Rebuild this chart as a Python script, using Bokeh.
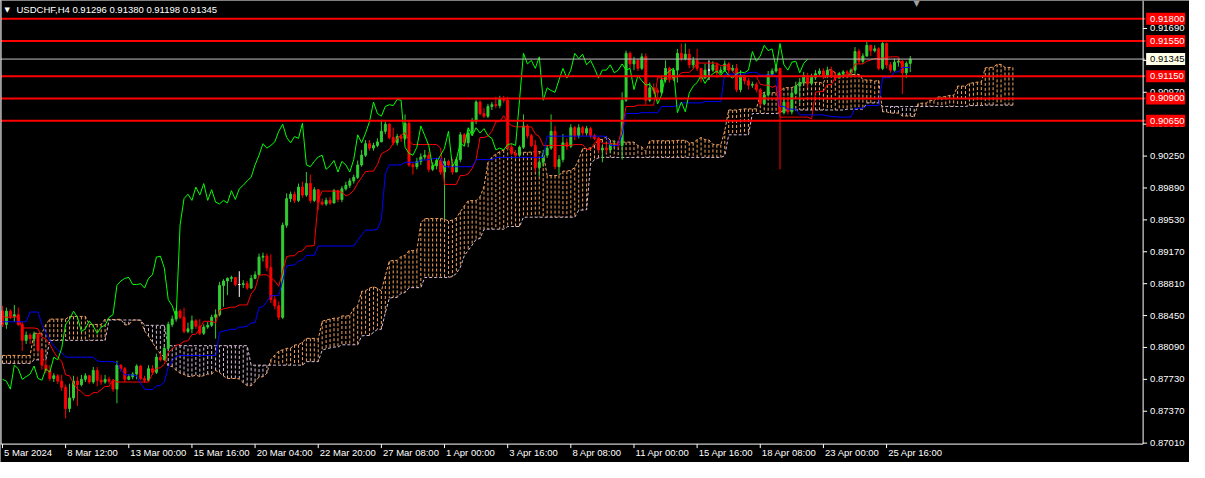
import numpy as np
from bokeh.plotting import figure
from bokeh.models import ColumnDataSource, Range1d
from bokeh.core.properties import value
from bokeh.embed import file_html
from bokeh.resources import INLINE

# ---------------- data (USDCHF H4) ----------------
first_open = 0.8850
closes = [
    .8835, .8850, .8844, .8846, .8835, .8817, .8823, .8819, .8824, .8806,
    .8789, .8783, .8774, .8777, .8771, .8764, .8740, .8752, .8771, .8767,
    .8773, .8777, .8770, .8783, .8772, .8770, .8773, .8771, .8762, .8789,
    .8785, .8773, .8776, .8779, .8788, .8774, .8772, .8785, .8781, .8798,
    .8795, .8808, .8835, .8841, .8850, .8843, .8827, .8830, .8839, .8833,
    .8825, .8832, .8834, .8843, .8846, .8879, .8884, .8887, .8888, .8880,
    .8880, .8881, .8876, .8887, .8891, .8911, .8912, .8899, .8863, .8856,
    .8843, .8947, .8977, .8982, .8975, .8990, .8981, .8994, .8975, .8987,
    .8973, .8971, .8975, .8972, .8986, .8976, .8988, .8992, .8997, .9001,
    .9015, .9026, .9039, .9034, .9037, .9041, .9053, .9061, .9046, .9040,
    .9047, .9045, .9062, .9015, .9013, .9019, .9024, .9026, .9010, .9014,
    .9020, .9007, .9019, .9015, .9007, .9021, .9049, .9040, .9051, .9064,
    .9086, .9073, .9070, .9081, .9083, .9082, .9089, .9088, .9035, .9028,
    .9026, .9035, .9059, .9048, .9037, .9012, .9018, .9026, .9034, .9053,
    .9013, .9021, .9040, .9036, .9057, .9048, .9057, .9051, .9056, .9048,
    .9045, .9032, .9034, .9032, .9038, .9039, .9037, .9088, .9141, .9129,
    .9133, .9124, .9137, .9088, .9102, .9099, .9097, .9111, .9124, .9113,
    .9122, .9141, .9135, .9140, .9128, .9133, .9124, .9113, .9122, .9122,
    .9128, .9119, .9122, .9129, .9122, .9124, .9100, .9116, .9110, .9105,
    .9106, .9100, .9084, .9094, .9117, .9121, .9124, .9074, .9086, .9075,
    .9096, .9104, .9108, .9116, .9107, .9114, .9118, .9121, .9116, .9122,
    .9116, .9113, .9118, .9120, .9119, .9122, .9143, .9132, .9138, .9150,
    .9144, .9146, .9124, .9152, .9128, .9122, .9131, .9132, .9119, .91296,
    .91345,
]
highs = [
    .8856, .8854, .8852, .8857, .8854, .8838, .8827, .8825, .8827, .8825,
    .8808, .8795, .8789, .8780, .8779, .8778, .8767, .8768, .8777, .8776,
    .8778, .8780, .8778, .8787, .8787, .8778, .8778, .8776, .8773, .8794,
    .8790, .8787, .8779, .8781, .8790, .8789, .8777, .8789, .8789, .8802,
    .8803, .8811, .8838, .8845, .8854, .8852, .8854, .8837, .8845, .8841,
    .8841, .8835, .8838, .8846, .8852, .8883, .8886, .8888, .8890, .8888,
    .8895, .8885, .8884, .8891, .8895, .8915, .8916, .8915, .8914, .8868,
    .8861, .8950, .8983, .8985, .8985, .8994, .8996, .9007, .9004, .8990,
    .8988, .8977, .8978, .8979, .8988, .8987, .8991, .8996, .9000, .9004,
    .9020, .9032, .9043, .9043, .9040, .9045, .9066, .9064, .9062, .9057,
    .9050, .9050, .9072, .9064, .9018, .9023, .9028, .9032, .9030, .9018,
    .9023, .9023, .9023, .9021, .9022, .9024, .9052, .9051, .9056, .9068,
    .9088, .9088, .9079, .9084, .9086, .9092, .9093, .9093, .9092, .9039,
    .9032, .9037, .9072, .9061, .9050, .9043, .9021, .9032, .9037, .9072,
    .9059, .9026, .9050, .9045, .9061, .9059, .9061, .9059, .9059, .9058,
    .9050, .9047, .9037, .9039, .9041, .9043, .9041, .9097, .9144, .9143,
    .9137, .9135, .9141, .9141, .9108, .9107, .9102, .9116, .9133, .9126,
    .9124, .9146, .9152, .9152, .9146, .9137, .9146, .9122, .9129, .9133,
    .9132, .9130, .9126, .9133, .9131, .9128, .9129, .9122, .9116, .9113,
    .9109, .9108, .9102, .9097, .9121, .9124, .9128, .9124, .9092, .9092,
    .9100, .9109, .9113, .9120, .9119, .9118, .9122, .9124, .9124, .9126,
    .9126, .9120, .9120, .9122, .9122, .9124, .9148, .9146, .9141, .9154,
    .9148, .9150, .9148, .9155, .9153, .9131, .9135, .9135, .9133, .9132,
    .91380,
]
lows = [
    .8832, .8830, .8841, .8838, .8833, .8805, .8813, .8813, .8814, .8803,
    .8784, .8780, .8771, .8770, .8768, .8760, .8729, .8736, .8749, .8743,
    .8765, .8770, .8768, .8768, .8765, .8767, .8768, .8768, .8759, .8746,
    .8782, .8770, .8772, .8773, .8773, .8772, .8769, .8771, .8778, .8779,
    .8793, .8794, .8806, .8832, .8838, .8841, .8825, .8825, .8825, .8830,
    .8823, .8823, .8830, .8832, .8819, .8844, .8855, .8868, .8883, .8878,
    .8866, .8876, .8874, .8875, .8886, .8890, .8906, .8895, .8859, .8852,
    .8840, .8841, .8944, .8973, .8972, .8973, .8978, .8979, .8972, .8973,
    .8964, .8969, .8969, .8970, .8972, .8973, .8973, .8986, .8989, .8994,
    .8999, .9013, .9024, .9031, .9031, .9035, .9041, .9050, .9044, .9037,
    .9037, .9041, .9043, .9013, .9004, .9010, .9015, .9021, .9007, .9008,
    .9010, .9004, .8954, .9012, .9004, .9007, .9018, .9037, .9035, .9048,
    .9061, .9071, .9068, .9068, .9077, .9079, .9079, .9085, .9032, .9026,
    .9023, .9024, .9033, .9045, .9035, .9007, .9002, .9013, .9023, .9032,
    .9010, .9004, .9018, .9032, .9034, .9043, .9045, .9048, .9048, .9045,
    .9043, .9028, .9018, .9028, .9028, .9035, .9034, .9021, .9086, .9124,
    .9122, .9121, .9122, .9083, .9086, .9095, .9087, .9095, .9108, .9108,
    .9110, .9108, .9132, .9133, .9124, .9124, .9121, .9108, .9113, .9111,
    .9120, .9113, .9118, .9120, .9118, .9120, .9097, .9097, .9106, .9100,
    .9102, .9097, .9081, .9083, .9092, .9116, .9119, .9010, .9072, .9072,
    .9072, .9094, .9085, .9106, .9102, .9105, .9111, .9116, .9112, .9113,
    .9113, .9110, .9113, .9116, .9116, .9116, .9118, .9129, .9129, .9137,
    .9138, .9142, .9122, .9122, .9124, .9119, .9120, .9126, .9095, .9113,
    .91198,
]
# Ichimoku values visible at the left edge (they depend on older bars)
kijun_early = [.8838] * 7 + [.8849] * 3 + [.8835, .8825, .8817, .8811, .8806, .8803] + [.8798] * 8 + [.8794]
span_a_early = [.8800] * 8 + [.8825] * 3 + [.8835] + [.8841] * 5 + [.8844] * 5 + [.8835] * 4
span_b_early = ([.8791] * 8 + [.8795] * 4 + [.8817] * 15 + [.8840] * 9 +
                [.8834] * 6 + [.8811] * 21 + [.8789] * 14)

levels = [0.91800, 0.91550, 0.91150, 0.90900, 0.90650]
bid = 0.91345
y_ticks = [0.87010, 0.87370, 0.87730, 0.88090, 0.88450, 0.88810, 0.89170,
           0.89530, 0.89890, 0.90250, 0.90610, 0.90970, 0.91330, 0.91690]
x_tick_bars = [0, 16, 32, 48, 64, 80, 96, 112, 128, 144, 160, 176, 192, 208, 224]
x_tick_labels = ["5 Mar 2024", "8 Mar 12:00", "13 Mar 00:00", "15 Mar 16:00",
                 "20 Mar 04:00", "22 Mar 20:00", "27 Mar 08:00", "1 Apr 00:00",
                 "3 Apr 16:00", "8 Apr 08:00", "11 Apr 00:00", "15 Apr 16:00",
                 "18 Apr 08:00", "23 Apr 00:00", "25 Apr 16:00"]
title_text = "USDCHF,H4  0.91296 0.91380 0.91198 0.91345"

# ---------------- derived ----------------
n = len(closes)
C = np.array(closes)
O = np.array([first_open] + closes[:-1])
H = np.maximum(np.array(highs), np.maximum(O, C))
L = np.minimum(np.array(lows), np.minimum(O, C))
idx = np.arange(n)

def mid(i, period):
    s = max(0, i - period + 1)
    return (H[s:i + 1].max() + L[s:i + 1].min()) / 2

tenkan = np.array([mid(i, 9) for i in range(n)])
kijun = np.array([kijun_early[i] if i < len(kijun_early) else mid(i, 26) for i in range(n)])
m = n + 26
span_a = np.zeros(m)
span_b = np.zeros(m)
for i in range(m):
    span_a[i] = span_a_early[i] if i < len(span_a_early) else (tenkan[i - 26] + kijun[i - 26]) / 2
    span_b[i] = span_b_early[i] if i < len(span_b_early) else mid(i - 26, 52)

# ---------------- geometry (chart pixels -> scale units) ----------------
W, HGT = 1189, 462
PX_BAR = 4 * W / 1205.0            # pixels per bar
PRICE_PX = 0.0036 / 33 * 478.0 / HGT  # price per pixel
TOP_PRICE = 0.92006
def xd(px):   # horizontal pixel -> bar units
    return -0.5 + px / PX_BAR
def yd(py):   # vertical pixel -> price
    return TOP_PRICE - py * PRICE_PX

AX_X = 289.0                     # right price-scale line (bar units)
BOTTOM = yd(443.6)               # bottom time-scale line (price)

BULL = "#32CD32"
BEAR = "#FF0000"
colors = [BULL if c > o else (BEAR if c < o else "#FFFFFF") for o, c in zip(O, C)]

FONT = "Liberation Sans"
FS = "9.5px"

p = figure(width=W, height=HGT, output_backend="svg", toolbar_location=None,
           x_range=Range1d(xd(0), xd(W)), y_range=Range1d(yd(HGT), yd(0)),
           x_axis_location=None, y_axis_location=None,
           min_border_left=0, min_border_right=0, min_border_top=0, min_border_bottom=0,
           background_fill_color="black", border_fill_color="black")
p.xgrid.visible = False
p.ygrid.visible = False
p.outline_line_color = None

# cloud (vertical dotted histogram between the spans)
cx = np.arange(m)
ccol = ["#F4A460" if a >= b else "#D8BFD8" for a, b in zip(span_a, span_b)]
p.segment(x0=cx, y0=span_a, x1=cx, y1=span_b, line_color=ccol, line_width=1, line_dash="3 2")
p.line(cx, span_a, line_color="#F4A460", line_width=1, line_dash="3 2")
p.line(cx, span_b, line_color="#D8BFD8", line_width=1, line_dash="3 2")

# candles
src = ColumnDataSource(dict(x=idx, o=O, c=C, h=H, l=L, top=np.maximum(O, C),
                            bot=np.minimum(O, C), col=colors))
p.segment(x0="x", y0="l", x1="x", y1="h", line_color="col", line_width=1, source=src)
p.vbar(x="x", top="top", bottom="bot", width=0.5, fill_color="col", line_color="col",
       line_width=1, source=src)

# ichimoku lines
p.line(idx, tenkan, line_color="#FF0000", line_width=1)
p.line(idx, kijun, line_color="#0000FF", line_width=1)
p.line(idx[:-26], C[26:], line_color="#00FF00", line_width=1)

# horizontal levels and bid line
line_end = AX_X + 2 / PX_BAR
p.segment(x0=[xd(0)] * len(levels), y0=levels, x1=[line_end] * len(levels), y1=levels,
          line_color="#FF0000", line_width=2)
p.segment(x0=[xd(0)], y0=[bid], x1=[line_end], y1=[bid], line_color="#C0C0C0", line_width=1)

# price scale (right) and time scale (bottom)
p.segment(x0=[AX_X, xd(0)], y0=[BOTTOM, BOTTOM], x1=[AX_X, AX_X], y1=[yd(0), BOTTOM],
          line_color="white", line_width=1)
p.segment(x0=[xd(0.5)], y0=[BOTTOM], x1=[xd(0.5)], y1=[yd(0)], line_color="white", line_width=1)
tick_len = 4 / PX_BAR
p.segment(x0=[AX_X] * len(y_ticks), y0=y_ticks, x1=[AX_X + tick_len] * len(y_ticks), y1=y_ticks,
          line_color="white", line_width=1)
p.text(x=[AX_X + 7 / PX_BAR] * len(y_ticks), y=y_ticks, text=[f"{v:.5f}" for v in y_ticks],
       text_color="white", text_font=value(FONT), text_font_size=value(FS),
       text_baseline="middle", text_align="left")
p.segment(x0=x_tick_bars, y0=[BOTTOM] * len(x_tick_bars), x1=x_tick_bars,
          y1=[BOTTOM - 4 * PRICE_PX] * len(x_tick_bars), line_color="white", line_width=1)
p.text(x=[b + 0.4 for b in x_tick_bars], y=[BOTTOM - 3 * PRICE_PX] * len(x_tick_bars),
       text=x_tick_labels, text_color="white", text_font=value(FONT), text_font_size=value(FS),
       text_baseline="top", text_align="left")

# price labels of the levels and the bid
half = 6 * PRICE_PX
bx0, bx1 = AX_X + 3 / PX_BAR, AX_X + 42 / PX_BAR
p.quad(left=[bx0] * len(levels), right=[bx1] * len(levels),
       bottom=[v - half for v in levels], top=[v + half for v in levels],
       fill_color="#FF0000", line_color=None)
p.quad(left=[bx0], right=[bx1], bottom=[bid - half], top=[bid + half],
       fill_color="#FFFFE8", line_color=None)
p.text(x=[AX_X + 7 / PX_BAR] * len(levels), y=levels, text=[f"{v:.5f}" for v in levels],
       text_color="white", text_font=value(FONT), text_font_size=value(FS),
       text_baseline="middle", text_align="left")
p.text(x=[AX_X + 7 / PX_BAR], y=[bid], text=[f"{bid:.5f}"],
       text_color="black", text_font=value(FONT), text_font_size=value(FS),
       text_baseline="middle", text_align="left")

# header
p.text(x=[xd(4)], y=[yd(9)], text=["\u25BC"], text_color="white",
       text_font=value("DejaVu Sans"), text_font_size=value("7px"), text_baseline="middle")
p.text(x=[xd(16)], y=[yd(9)], text=[title_text], text_color="white",
       text_font=value(FONT), text_font_size=value(FS), text_baseline="middle")
p.text(x=[xd(913)], y=[yd(3)], text=["\u25BC"], text_color="#A0A0A0",
       text_font=value("DejaVu Sans"), text_font_size=value("8px"), text_baseline="middle")

open("out.html", "w").write(file_html(p, INLINE))
